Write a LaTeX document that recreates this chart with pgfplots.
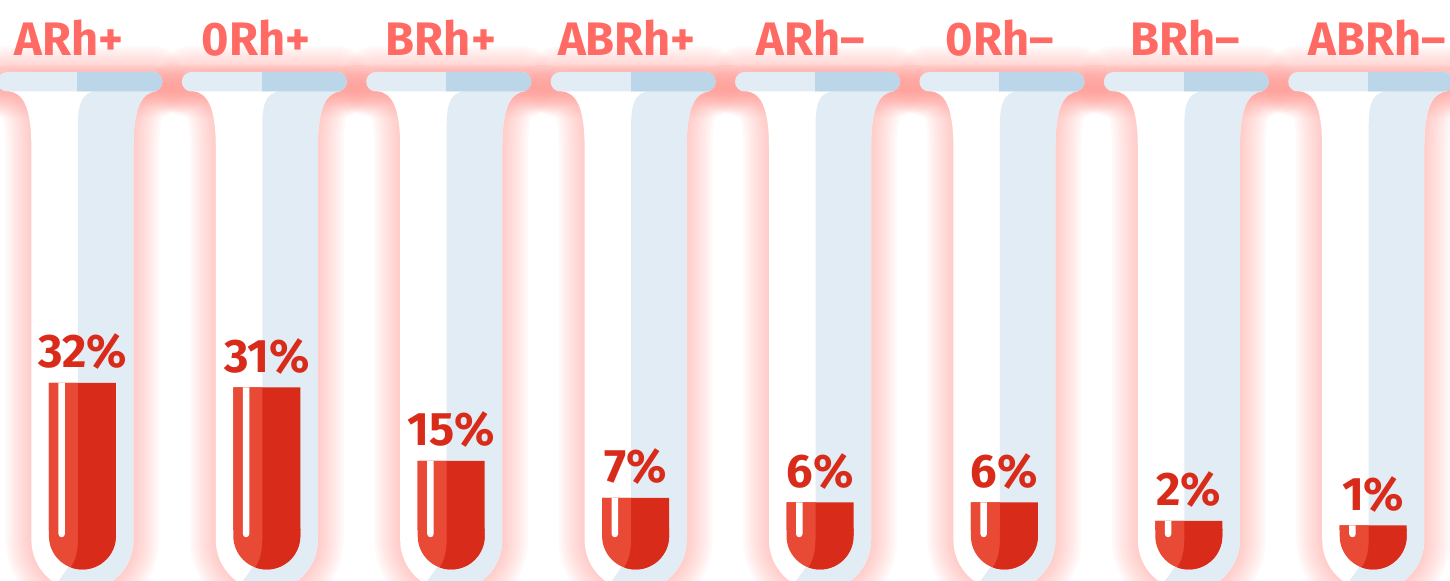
\documentclass[border=0pt]{standalone}
\usepackage{fontspec}
\setmainfont{Fira Sans}
\usepackage{pgfplots}
\usepackage{pgfplotstable}
\pgfplotsset{compat=1.18}
\definecolor{lab}{HTML}{FF6B64}
\definecolor{pctred}{HTML}{D92B1A}
\definecolor{darkred}{HTML}{D92B1A}
\definecolor{lightred}{HTML}{E84A36}
\definecolor{tubeblue}{HTML}{E2ECF5}
\definecolor{rimblue}{HTML}{BAD6E8}
\definecolor{glow}{HTML}{FF8F88}

\pgfplotstableread{
idx val
0 32
1 31
2 15
3 7
4 6
5 6
6 2
7 1
}\bloodtable

% tube outline in pixel units (y downwards), #2 = tube centre
\newcommand{\tubeshape}[2]{\path[#1] (#2-74,91) .. controls (#2-60,93) and (#2-51,105) .. (#2-51,148) -- (#2-51,540) arc[start angle=180,end angle=0,radius=51] -- (#2+51,148) .. controls (#2+51,105) and (#2+60,93) .. (#2+74,91) -- cycle;}
\newcommand{\rimshape}[2]{\path[#1,rounded corners=4.875pt] (#2-85,72) rectangle (#2+80,91.5);}
\newcommand{\capshape}[2]{\path[#1] (#2-33.5,529) -- (#2-33.5,536) arc[start angle=180,end angle=0,radius=33.5] -- (#2+33.5,529) -- cycle;}

\begin{document}
\begin{tikzpicture}
\useasboundingbox (0,0) rectangle (725pt,290.5pt);
\begin{scope}[yshift=290.5pt,x=0.5pt,y=-0.5pt]
  % glow
  \foreach \i in {0,...,7}{
    \pgfmathsetmacro{\cx}{82.4+184.4*\i}
    \foreach \w in {26,24,...,2}{
      \tubeshape{draw=glow,line width=\w pt,draw opacity=0.045}{\cx}
      \rimshape{draw=glow,line width=\w pt,draw opacity=0.045}{\cx}
    }
  }
  % tubes
  \foreach \i in {0,...,7}{
    \pgfmathsetmacro{\cx}{82.4+184.4*\i}
    \tubeshape{fill=white}{\cx}
    \begin{scope}
      \tubeshape{clip}{\cx}
      \fill[tubeblue] (\cx+14,91) .. controls (\cx-2,93) and (\cx-4.5,105) .. (\cx-4.5,128) -- (\cx-4.5,540) .. controls (\cx-4.5,555) and (\cx-12,565) .. (\cx-32,592) -- (\cx+80,592) -- (\cx+80,91) -- cycle;
    \end{scope}
    \rimshape{fill=tubeblue}{\cx}
    \begin{scope}
      \rimshape{clip}{\cx}
      \fill[rimblue] (\cx-5,60) rectangle (\cx+90,100);
    \end{scope}
    \capshape{fill=lightred}{\cx}
    \begin{scope}
      \capshape{clip}{\cx}
      \fill[darkred] (\cx-4.5,520) -- (\cx-4.5,538) .. controls (\cx-4.5,556) and (\cx-8,564) .. (\cx-17,575) -- (\cx+40,575) -- (\cx+40,520) -- cycle;
    \end{scope}
    \fill[white] (\cx-24,529) -- (\cx-24,534) arc[start angle=180,end angle=0,radius=3.25] -- (\cx-17.5,529) -- cycle;
  }
\end{scope}
\begin{axis}[at={(0,0)},anchor=south west,scale only axis,
  width=725pt,height=290.5pt,
  xmin=-0.44685,xmax=7.41649,ymin=-11.087,ymax=115.2174,
  clip=false,
  axis line style={draw=none},
  major tick length=0pt,
  ytick=\empty,
  xtick={-0.0727,0.9414,1.9447,2.9534,3.9512,4.9761,5.9794,7.0206},
  xticklabels={ARh+,0Rh+,BRh+,ABRh+,ARh–,0Rh–,BRh–,ABRh–},
  xticklabel pos=upper,
  xticklabel style={anchor=base,yshift=-28pt,text=lab,
    font=\fontsize{23.5}{28}\selectfont\bfseries},
  /pgf/number format/assume math mode=true,
]
\addplot[ybar,bar width=33.5pt,bar shift=0pt,fill=darkred,draw=none,
  nodes near coords={\pgfmathprintnumber{\pgfplotspointmeta}\%},
  nodes near coords style={anchor=base,yshift=7.5pt,text=pctred,
    font=\fontsize{23.5}{28}\selectfont\bfseries}]
  table[x=idx,y=val]{\bloodtable};
\addplot[ybar,bar width=14.5pt,bar shift=-9.5pt,fill=lightred,draw=none]
  table[x=idx,y=val]{\bloodtable};
\addplot[ybar,bar width=3.25pt,bar shift=-10.375pt,fill=white,draw=none]
  table[x=idx,y=val]{\bloodtable};
\end{axis}
\end{tikzpicture}
\end{document}
